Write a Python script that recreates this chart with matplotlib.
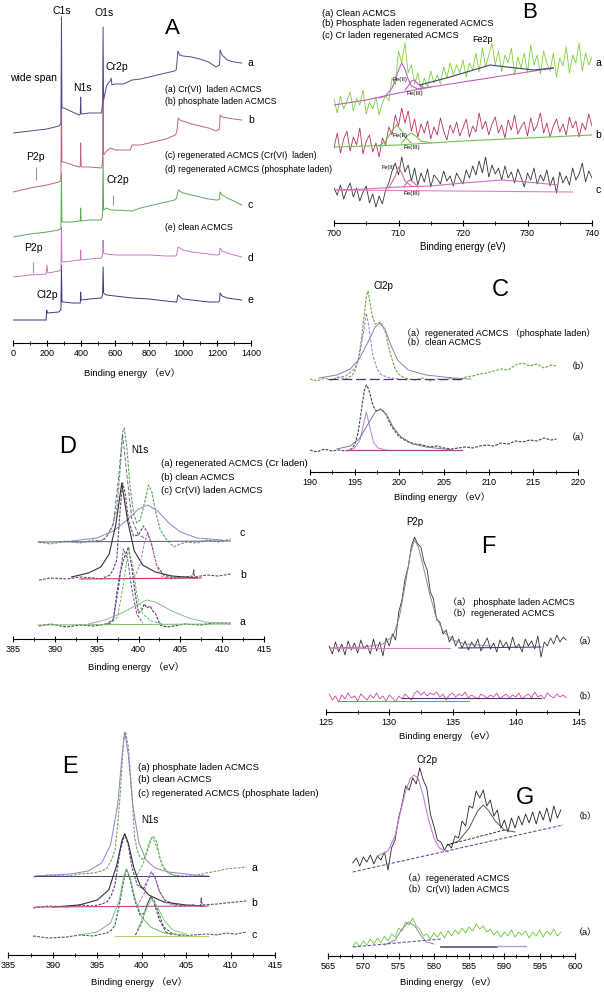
import numpy as np
import matplotlib
matplotlib.use('Agg')
import matplotlib.pyplot as plt
from matplotlib.ticker import MultipleLocator

plt.rcParams['font.family'] = ['Liberation Sans', 'Noto Sans CJK SC', 'DejaVu Sans']

# ---------------- DATA ----------------
# Panel A: wide-span survey spectra (binding energy eV, intensity a.u., stacked)
A_a_E = [0,100,200,270,280,282,285,288,300,350,390,396,398,401,450,520,527,530,533,550,565,572,577,582,600,650,700,750,800,850,900,950,960,965,970,980,1000,1050,1100,1150,1195,1205,1215,1218,1230,1260,1300,1345]
A_a_I = [210,212,214,217,219,219,326,235,235,231,228,229,246,229,230,230,240,316,243,257,261,262,265,258,259,259,263,264,266,268,270,272,273,282,292,288,287,286,284,281,276,277,278,293,288,283,281,280]
A_b_E = [0,100,200,270,280,282,285,288,300,350,390,396,398,401,450,520,527,530,533,550,575,600,690,700,750,800,850,900,955,963,968,972,990,1000,1050,1100,1150,1195,1205,1215,1218,1230,1260,1300,1345]
A_b_I = [151,155,158,161,162,162,248,181,181,178,176,177,200,176,176,175,180,243,188,192,195,193,193,198,198,200,202,204,208,211,218,225,222,222,219,217,215,212,213,214,228,226,225,224,223]
A_c_E = [0,100,200,270,280,282,285,288,300,350,390,396,398,401,450,520,527,530,533,550,575,600,700,750,800,850,900,950,963,968,975,990,1000,1050,1100,1150,1195,1205,1215,1218,1230,1260,1300,1345]
A_c_I = [106,109,111,113,114,114,170,121,121,121,122,122,135,122,123,123,128,186,133,135,133,133,132,135,137,139,141,143,145,150,153,151,150,148,146,144,143,143,144,151,148,145,142,138]
A_d_E = [0,100,195,200,205,270,280,282,285,288,300,350,390,396,398,401,450,520,527,530,533,550,600,700,800,900,955,963,968,972,990,1000,1050,1100,1150,1195,1205,1215,1218,1230,1260,1300,1345]
A_d_I = [66,68,69,78,70,72,73,73,116,81,81,82,83,83,93,83,84,85,88,103,90,89,88,88,88,87,87,88,93,96,94,93,91,90,89,88,88,89,95,92,90,88,86]
A_e_E = [0,130,195,198,202,270,280,282,285,288,300,350,390,396,398,401,450,520,527,530,533,550,600,700,800,900,955,963,968,972,990,1000,1050,1100,1150,1195,1205,1215,1218,1230,1260,1300,1345]
A_e_I = [23,23,23,33,30,31,33,33,78,41,41,40,40,40,51,43,44,45,48,76,50,48,47,45,44,42,41,41,46,48,45,44,43,42,41,41,41,42,50,47,45,44,43]
A_MARK_E = [135, 590, 118]
A_MARK_LO = [163, 138, 70]
A_MARK_HI = [176, 148, 81]

# Panel B: Fe2p
B_E = np.arange(700, 740.01, 0.5)
B_a = [124,110,127,114,122,131,112,125,118,133,
       109,121,114,126,108,120,128,122,145,138,
       172,160,180,150,158,139,150,132,145,136,
       152,140,148,139,156,145,160,148,158,150,
       163,146,160,153,170,151,175,156,168,180,
       158,172,151,168,160,175,148,166,155,170,
       150,178,158,168,149,172,160,152,170,146,
       165,157,176,150,168,160,180,152,170,158,
       166]
B_b = [75,90,70,84,92,72,86,78,95,69,
       82,88,71,80,66,85,78,96,88,108,
       97,115,100,112,92,104,86,99,90,102,
       84,96,88,105,92,83,98,90,101,87,
       95,104,86,97,91,110,94,102,88,99,
       106,90,98,85,103,93,108,89,96,101,
       87,105,92,98,110,90,100,86,97,104,
       91,99,88,106,95,102,86,100,93,109,
       97]
B_c = [35,28,38,24,33,40,26,35,22,31,
       37,20,29,16,27,19,33,40,52,60,
       48,66,51,58,42,55,38,50,41,54,
       36,48,44,39,52,42,47,37,50,44,
       39,53,45,57,48,62,50,66,46,58,
       49,55,43,57,45,51,40,54,46,36,
       50,43,55,39,48,42,53,37,46,30,
       51,40,47,38,55,43,49,60,41,52,
       45]
B_A_BG_E = [700,705,710,715,720,725,730,734]
B_A_BG_I = [118,123,130,136,141,146,151,155]
B_A_FE2_E = [707,708,709,709.5,710,710.5,711,711.5,712,713,714]
B_A_FE2_I = [125,127,135,143,153,160,154,144,137,134,135]
B_A_FE3_E = [711,711.5,712,712.5,713,714,715]
B_A_FE3_I = [133,137,142,143,139,135,136]
B_A_SAT_E = [713.3,718,724.2,726.8,731,734]
B_A_SAT_I = [138,146,158,156,153,155]
B_B_BG_E = [700,710,720,730,740]
B_B_BG_I = [76,78,82,85,88]
B_B_FE2_E = [707,708,709,709.7,710.5,711,712]
B_B_FE2_I = [77,82,92,98,92,86,80]
B_B_FE3_E = [710.5,711.5,712,712.5,713.5,715]
B_B_FE3_I = [80,88,90,88,82,80]
B_C_BG_E = [700,737]
B_C_BG_I = [33,31]
B_C_ENV_E = [700,705,710,715,720,726,730,734.7]
B_C_ENV_I = [33,34,36,37,40,43,41,38]
B_C_FE2_E = [708.5,709.5,710,710.5,711,712]
B_C_FE2_I = [35,47,56,50,42,37]
B_C_FE3_E = [710.8,711.5,711.8,712.3,713]
B_C_FE3_I = [36,42,43,41,36]

# Panel C: Cl2p
C_E = [190.0,190.8,191.6,192.4,193.2,194.0,194.6,195.0,195.4,195.8,196.1,196.3,196.5,196.7,197.0,197.3,197.6,197.9,198.2,198.5,198.8,199.1,199.5,199.9,200.4,201.0,201.8,202.6,203.4,204.2,205.0,205.8,206.6,207.4,208.2,209.0,209.8,210.6,211.4,212.2,213.0,213.8,214.6,215.4,216.2,217.0,217.6]
C_b = [93,91,94,92,95,93,96,100,112,135,160,176,181,170,155,148,149,150,145,138,125,115,104,98,95,93,92,94,91,93,92,94,92,95,96,98,99,101,103,102,107,109,106,108,104,107,106]
C_a = [22,20,23,21,22,21,23,27,40,65,82,87,84,79,68,62,61,63,61,58,52,46,41,36,33,30,28,27,25,26,24,23,24,25,24,26,27,26,29,28,31,30,32,31,34,32,33]
C_B_P1_E = [193,194,195,195.5,196,196.3,196.6,197,197.5,198,199,200]
C_B_P1_I = [94,96,103,115,140,159,145,118,103,97,94,93]
C_B_P2_E = [191,193,194.5,195.5,196.5,197.3,197.8,198.4,199,199.8,201,203,206,208]
C_B_P2_I = [94,97,103,113,130,145,149,143,128,112,102,97,94,93]
C_A_P1_E = [194.5,195,195.6,196,196.3,196.7,197.1,197.6,198.5]
C_A_P1_I = [22,24,32,48,60,45,30,24,22]
C_A_P2_E = [193,194.5,195.5,196.5,197.3,197.9,198.6,199.3,200.2,201.5,203,206]
C_A_P2_I = [23,26,33,48,60,63,57,45,35,28,25,22]

# Panel D: N1s
D_c_E = [388.1,389.5,391.4,393,394.6,395.5,396.2,396.8,397.4,397.8,398.1,398.3,398.6,399.0,399.4,399.8,400.2,400.8,401.2,401.6,402.0,402.6,403.4,404.2,405.0,405.8,407,408.2,409.5,411.0]
D_c_I = [97,95,98,96,99,98,102,111,129,169,207,211,192,152,126,116,119,139,154,147,129,109,99,92,95,97,96,99,97,100]
D_b_E = [388.1,389.5,391.4,393,394.6,395.5,396.6,397.0,397.4,397.8,398.1,398.4,398.8,399.4,400.0,400.6,401.1,401.6,402.2,403.0,404.2,405.4,406.5,406.6,406.7,408.2,409.5,411.0]
D_b_I = [59,61,60,62,61,60,64,70,79,129,156,146,119,103,104,113,106,93,73,64,61,62,63,69,62,64,63,65]
D_a_E = [388.1,389.5,391.4,393,394.6,395.5,396.6,397.0,397.4,397.8,398.2,398.8,399.2,399.6,400.0,400.4,400.7,401.0,401.4,401.7,402.0,402.6,403.4,404.2,405.5,407.4,409,411.0]
D_a_I = [13,15,12,14,13,14,16,19,46,66,79,92,72,46,26,29,35,31,33,28,26,14,12,13,15,14,16,16]
D_C_F1_E = [395,396,397,397.6,398.1,398.6,399.2,400,401]
D_C_F1_I = [97,100,115,160,205,165,120,104,100]
D_C_F2_E = [392,395,397,398.5,400,401.1,402.3,403.5,405,407,410]
D_C_F2_I = [98,101,108,118,130,134,128,117,107,101,99]
D_B_F1_E = [392,394,395.5,396.5,397.3,398,398.7,399.5,400.5,402,404,407]
D_B_F1_I = [62,66,72,85,115,156,118,88,74,67,63,61]
D_B_F2_E = [399.5,400.2,400.7,401.1,401.6,402.1,402.7,404]
D_B_F2_I = [61,75,96,106,95,75,63,60]
D_A_F1_E = [396,397,397.6,398.2,398.7,399.2,399.8,400.5]
D_A_F1_I = [14,20,50,90,80,50,25,16]
D_A_F2_E = [396.5,397.5,398.2,398.8,399.3,399.8,400.5,401.5,403]
D_A_F2_I = [14,22,55,90,75,45,25,18,15]
D_A_F3_E = [394,396,398,400,401,402,404,406,408,411]
D_A_F3_I = [15,19,26,35,39,37,28,21,17,15]

# Panel E: N1s
E_a_E = [387.8,389.5,391.6,393,394.6,395.5,396.1,396.6,397.0,397.3,397.6,398.0,398.2,398.5,398.9,399.2,399.5,399.8,400.2,400.7,401.1,401.4,401.7,402.0,402.6,403.5,404.6,405.8,407.3,408.5,409.5,410.6,411.8]
E_a_I = [78,80,79,81,82,84,87,95,105,130,162,218,223,208,162,118,105,98,95,105,117,118,113,98,85,80,79,79,82,84,86,87,88]
E_b_E = [387.8,389.5,391.6,393,394.6,395.5,396.1,396.6,397.0,397.3,397.6,398.1,398.5,398.9,399.5,400.2,400.7,401.1,401.5,402.0,402.6,403.5,404.6,405.8,406.6,406.7,406.8,408.5,409.5,410.6,411.8]
E_b_I = [47,49,48,50,49,51,53,60,70,88,105,121,110,88,70,66,75,83,78,64,55,51,49,50,49,57,50,51,52,53,54]
E_c_E = [387.8,389.5,391.6,393,394.6,395.5,396.1,396.6,397.0,397.6,398.0,398.3,398.7,399.2,399.8,400.3,400.7,401.0,401.4,401.9,402.5,403.5,404.6,405.8,407.3,408.5,409.5,410.6,411.8]
E_c_I = [19,17,18,20,19,21,22,25,30,55,75,86,75,55,40,42,52,58,55,42,28,21,19,20,21,20,22,21,23]
E_A_F1_E = [388,392,394,395.5,396.5,397.3,397.8,398.1,398.5,399,399.7,400.5,401.5,403,406,407.5]
E_A_F1_I = [79,81,84,92,110,150,200,223,200,150,112,95,87,83,80,79]
E_A_F2_E = [399.5,400.2,400.8,401.2,401.7,402.3,403,404]
E_A_F2_I = [80,92,112,118,108,90,82,79]
E_B_F1_E = [390,393,395,396.3,397.2,397.8,398.1,398.5,399.1,399.8,400.8,402.5,405,407]
E_B_F1_I = [48,50,55,65,90,115,121,112,88,70,60,53,50,49]
E_B_F2_E = [399.5,400.3,400.8,401.1,401.5,402,402.8,404]
E_B_F2_I = [49,62,78,83,77,63,52,49]
E_C_F1_E = [393,395,396.5,397.5,398,398.3,398.7,399.3,400,401,402.5,405]
E_C_F1_I = [20,23,32,55,80,86,78,55,38,28,22,20]
E_C_F2_E = [399.3,400,400.6,401,401.4,402,402.7,403.5]
E_C_F2_I = [20,32,50,58,52,35,23,20]
E_C_F3_E = [399.5,400.5,401.1,401.8,402.5,403.5,405]
E_C_F3_I = [25,45,56,48,35,25,21]

# Panel F: P2p
F_E = np.arange(125.25, 144.01, 0.25)
F_a = [66,58,70,60,68,57,71,62,
       69,59,72,63,67,58,73,61,
       70,56,74,66,78,72,100,112,
       133,145,166,175,168,165,150,142,
       120,113,92,90,78,82,70,76,
       66,73,64,71,62,70,65,73,
       61,68,74,63,69,60,72,65,
       70,62,75,64,68,60,73,66,
       71,63,76,55,70,66,74,68,
       77,70,75,72]
F_b = [18,12,16,10,17,13,19,14,
       16,11,18,15,12,17,14,19,
       13,16,11,17,14,10,16,13,
       18,15,12,19,21,17,20,16,
       19,17,20,15,18,12,17,19,
       15,18,16,20,14,17,15,13,
       18,16,14,17,15,19,13,16,
       18,14,17,15,19,13,16,18,
       14,20,15,17,13,19,16,14,
       18,15,17,14]
F_A_FIT_E = [125.3,128,129.5,130.3,130.8,131.3,131.7,132,132.3,132.7,133.2,133.7,134.3,135,136,138]
F_A_FIT_I = [64,65,68,76,95,130,160,172,165,145,118,95,80,72,68,66]

# Panel G: Cr2p
G_E = np.arange(568.5, 598.01, 0.5)
G_b = [93,98,90,99,94,101,92,100,96,104,
       86,108,116,138,152,170,166,178,172,188,
       176,168,142,130,116,114,106,112,108,120,
       118,135,130,150,148,165,158,166,150,156,
       140,146,128,136,124,138,128,140,131,142,
       133,144,132,145,136,148,134,150,138,146]
G_a = [10,14,9,15,11,17,12,18,13,20,
       15,22,19,28,25,34,31,38,30,27,
       20,22,17,23,19,24,18,25,20,26,
       22,28,23,29,25,32,27,30,24,27,
       21,25,19,24,20,26,19,24,21,25,
       18,24,20,26,19,25,21,27,20,24]
G_B_F1_E = [572,573.5,574.5,575.3,576,576.7,577.2,577.8,578.5,579.2,580,580.8,582]
G_B_F1_I = [100,105,120,145,165,178,181,177,160,138,118,108,104]
G_B_F2_E = [582,583.5,585,586.2,587,587.8,588.7,590,591.5]
G_B_F2_I = [111,115,128,145,151,145,135,126,124]
G_A_F1_E = [573,574.5,575.5,576.4,577.3,578.2,579,580]
G_A_F1_I = [11,16,27,34,30,20,14,12]

# ---------------- FIGURE ----------------
W, H = 604, 992
fig = plt.figure(figsize=(W/100, H/100), dpi=100)
fig.patch.set_facecolor('white')

def make_ax(x0, x1, axis_y, top, xlim, major, minor):
    ax = fig.add_axes([x0/W, 1 - axis_y/H, (x1-x0)/W, (axis_y-top)/H])
    ax.set_xlim(*xlim)
    ax.set_ylim(0, axis_y - top)
    for s in ['left', 'right', 'top']:
        ax.spines[s].set_visible(False)
    ax.spines['bottom'].set_linewidth(0.8)
    ax.set_yticks([])
    ax.xaxis.set_major_locator(MultipleLocator(major))
    ax.xaxis.set_minor_locator(MultipleLocator(minor))
    ax.tick_params(axis='x', which='major', direction='inout', length=5, width=0.8,
                   labelsize=6.5, pad=1.5)
    ax.tick_params(axis='x', which='minor', direction='inout', length=3, width=0.6)
    ax.patch.set_alpha(0)
    return ax

def T(x, y, s, fs=6.5, ha='left', **kw):
    fig.text(x/W, 1 - y/H, s, fontsize=fs, ha=ha, va='center', **kw)

DASH = (0, (2.5, 1.2))

# ---- A ----
axA = make_ax(13, 251, 343, 0, (0, 1400), 200, 100)
for E, I, c in [(A_e_E, A_e_I, '#3c3c7a'), (A_d_E, A_d_I, '#c878c8'),
                (A_c_E, A_c_I, '#5aaa5a'), (A_b_E, A_b_I, '#c0608c'),
                (A_a_E, A_a_I, '#4e4e86')]:
    axA.plot(E, I, color=c, lw=0.7)
axA.vlines(A_MARK_E, A_MARK_LO, A_MARK_HI, color='#999999', lw=0.8)
T(62, 11, 'C1s', 7.5, 'center'); T(104, 13, 'O1s', 7.5, 'center')
T(172, 28, 'A', 16, 'center')
T(10, 78, 'wide span', 7.5); T(82, 88, 'N1s', 7.5, 'center'); T(117, 67, 'Cr2p', 7.5, 'center')
T(165, 89, '(a) Cr(VI)  laden ACMCS', 6.3)
T(165, 101, '(b) phosphate laden ACMCS', 6.3)
T(165, 156, '(c) regenerated ACMCS (Cr(VI)  laden)', 6.3)
T(165, 170, '(d) regenerated ACMCS (phosphate laden)', 6.3)
T(165, 228, '(e) clean ACMCS', 6.3)
T(35, 157, 'P2p', 7.5, 'center'); T(118, 180, 'Cr2p', 7.5, 'center')
T(33, 248, 'P2p', 7.5, 'center'); T(47, 295, 'Cl2p', 7.5, 'center')
for lab, yy in zip('abcde', [63, 120, 205, 258, 300]):
    T(248, yy, lab, 7.5)
T(132, 373, 'Binding energy （eV）', 6.8, 'center')

# ---- B ----
axB = make_ax(334, 592, 223, 0, (700, 740), 10, 5)
axB.plot(B_E, B_a, color='#7ad23a', lw=0.6)
axB.plot(B_E, B_b, color='#b8305f', lw=0.6)
axB.plot(B_E, B_c, color='#333333', lw=0.6)
axB.plot(B_A_BG_E, B_A_BG_I, color='#c060c0', lw=0.8)
axB.plot(B_A_FE2_E, B_A_FE2_I, color='#c060c0', lw=0.8)
axB.plot(B_A_FE3_E, B_A_FE3_I, color='#c060c0', lw=0.8)
axB.plot(B_A_SAT_E, B_A_SAT_I, color='#404070', lw=0.8)
axB.plot(B_B_BG_E, B_B_BG_I, color='#70c050', lw=0.8)
axB.plot(B_B_FE2_E, B_B_FE2_I, color='#70c050', lw=0.8)
axB.plot(B_B_FE3_E, B_B_FE3_I, color='#70c050', lw=0.8)
axB.plot(B_C_BG_E, B_C_BG_I, color='#e080c8', lw=0.8)
axB.plot(B_C_ENV_E, B_C_ENV_I, color='#d070b0', lw=0.8)
axB.plot(B_C_FE2_E, B_C_FE2_I, color='#d070b0', lw=0.8)
axB.plot(B_C_FE3_E, B_C_FE3_I, color='#d070b0', lw=0.8)
T(322, 13, '(a) Clean ACMCS', 6.7); T(322, 24, '(b) Phosphate laden regenerated ACMCS', 6.7)
T(322, 35, '(c) Cr laden regenerated ACMCS', 6.7)
T(530, 13, 'B', 16, 'center'); T(472, 40, 'Fe2p', 6.5)
T(400, 80, 'Fe(II)', 4.5, 'center'); T(415, 93, 'Fe(III)', 4.5, 'center')
T(400, 136, 'Fe(II)', 4.5, 'center'); T(412, 147, 'Fe(III)', 4.5, 'center')
T(388, 167, 'Fe(II)', 4.0, 'center'); T(412, 193, 'Fe(III)', 4.5, 'center')
T(595, 63, 'a', 7.5); T(595, 135, 'b', 7.5); T(595, 190, 'c', 7.5)
T(463, 247, 'Binding energy (eV)', 7, 'center')

# ---- C ----
axC = make_ax(310, 578, 472, 250, (190, 220), 5, 2.5)
axC.plot(C_E, C_b, color='#66b040', lw=0.8, ls=DASH)
axC.plot(C_E, C_a, color='#444444', lw=0.8, ls=DASH)
axC.plot(C_B_P1_E, C_B_P1_I, color='#9a70c8', lw=0.7, ls=(0, (3, 1.5)))
axC.plot(C_B_P2_E, C_B_P2_I, color='#8a80b0', lw=0.7)
axC.plot([192, 207], [93, 93], color='#503070', lw=0.9, ls=(0, (8, 3)))
axC.plot(C_A_P1_E, C_A_P1_I, color='#c080d8', lw=0.7)
axC.plot(C_A_P2_E, C_A_P2_I, color='#777799', lw=0.7)
axC.plot([194, 207], [22, 22], color='#b04090', lw=0.9)
T(383, 286, 'Cl2p', 7, 'center'); T(500, 290, 'C', 17, 'center')
T(402, 333, '（a）regenerated ACMCS （phosphate laden）', 6.5)
T(402, 343, '（b）clean ACMCS', 6.5)
T(567, 367, '（b）', 6.5); T(567, 438, '（a）', 6.5)
T(442, 497, 'Binding energy （eV）', 6.8, 'center')

# ---- D ----
axD = make_ax(13, 264, 639, 420, (385, 415), 5, 2.5)
axD.plot(D_c_E, D_c_I, color='#55aa55', lw=0.8, ls=DASH)
axD.plot(D_C_F1_E, D_C_F1_I, color='#8060a0', lw=0.7, ls=(0, (4, 2)))
axD.plot(D_C_F2_E, D_C_F2_I, color='#9a80c0', lw=0.7)
axD.plot([388, 411], [97, 98], color='#555577', lw=0.7)
axD.plot(D_b_E, D_b_I, color='#664477', lw=0.8, ls=DASH)
axD.plot(D_B_F1_E, D_B_F1_I, color='#333333', lw=0.8)
axD.plot(D_B_F2_E, D_B_F2_I, color='#c070c0', lw=0.7, ls=(0, (3, 1.5)))
axD.plot([393, 407.5], [60, 61], color='#cc3355', lw=0.8)
axD.plot(D_a_E, D_a_I, color='#553366', lw=0.8, ls=DASH)
axD.plot(D_A_F1_E, D_A_F1_I, color='#7050a0', lw=0.7, ls=(0, (3, 1.5)))
axD.plot(D_A_F2_E, D_A_F2_I, color='#66bb66', lw=0.7, ls=(0, (3, 1.5)))
axD.plot(D_A_F3_E, D_A_F3_I, color='#88bb88', lw=0.7)
axD.plot([388, 411], [14, 15], color='#77bb66', lw=0.7)
T(68, 447, 'D', 17, 'center'); T(140, 450, 'N1s', 7, 'center')
T(161, 464, '(a) regenerated ACMCS (Cr laden)', 6.8)
T(161, 477, '(b) clean ACMCS', 6.8)
T(161, 491, '(c) Cr(VI) laden ACMCS', 6.8)
T(240, 533, 'c', 7.5); T(240, 575, 'b', 7.5); T(240, 622, 'a', 7.5)
T(136, 667, 'Binding energy （eV）', 6.8, 'center')

# ---- E ----
axE = make_ax(8.3, 275, 955, 700, (385, 415), 5, 2.5)
axE.plot(E_a_E, E_a_I, color='#66aa66', lw=0.8, ls=DASH)
axE.plot(E_A_F1_E, E_A_F1_I, color='#9a7ac8', lw=0.7)
axE.plot(E_A_F2_E, E_A_F2_I, color='#66bb55', lw=0.7, ls=(0, (3, 1.5)))
axE.plot([388, 407.6], [79, 79], color='#444466', lw=0.7)
axE.plot(E_b_E, E_b_I, color='#664488', lw=0.8, ls=DASH)
axE.plot(E_B_F1_E, E_B_F1_I, color='#333333', lw=0.8)
axE.plot(E_B_F2_E, E_B_F2_I, color='#c070c8', lw=0.7, ls=(0, (3, 1.5)))
axE.plot([388, 407.5], [48, 49], color='#cc4488', lw=0.8)
axE.plot(E_c_E, E_c_I, color='#555577', lw=0.8, ls=DASH)
axE.plot(E_C_F1_E, E_C_F1_I, color='#77bb77', lw=0.7)
axE.plot(E_C_F2_E, E_C_F2_I, color='#444444', lw=0.7, ls=(0, (3, 1.5)))
axE.plot(E_C_F3_E, E_C_F3_I, color='#88cc88', lw=0.7)
axE.plot([397, 407.5], [19, 19], color='#bbcc66', lw=0.8)
T(70, 767, 'E', 17, 'center')
T(138, 767, '(a) phosphate laden ACMCS', 6.8)
T(138, 780, '(b) clean ACMCS', 6.8)
T(138, 793, '(c) regenerated ACMCS (phosphate laden)', 6.8)
T(150, 820, 'N1s', 7, 'center')
T(251, 868, 'a', 7.5); T(251, 903, 'b', 7.5); T(251, 935, 'c', 7.5)
T(139, 982, 'Binding energy （eV）', 6.8, 'center')

# ---- F ----
axF = make_ax(326, 579, 712, 500, (125, 145), 5, 2.5)
axF.plot(F_E, F_a, color='#333333', lw=0.6)
axF.plot(F_A_FIT_E, F_A_FIT_I, color='#888899', lw=0.7)
axF.plot([125.3, 134.8], [64, 64], color='#d080c8', lw=0.8)
axF.plot([135.5, 142], [64, 65], color='#603080', lw=0.8)
axF.plot(F_E, F_b, color='#cc44aa', lw=0.6)
axF.plot([126, 136.3], [11, 11], color='#66aa66', lw=0.8)
axF.plot([131, 142], [14, 14], color='#503070', lw=0.8)
T(415, 522, 'P2p', 7, 'center'); T(488, 547, 'F', 17, 'center')
T(448, 602, '（a） phosphate laden ACMCS', 6.5)
T(448, 613, '（b）regenerated ACMCS', 6.5)
T(574, 642, '（a）', 6.5); T(574, 697, '（b）', 6.5)
T(447, 736, 'Binding energy （eV）', 6.8, 'center')

# ---- G ----
axG = make_ax(328, 575, 956, 740, (565, 600), 5, 5/3)
axG.plot(G_E, G_b, color='#222222', lw=0.6)
axG.plot(G_B_F1_E, G_B_F1_I, color='#c080d0', lw=0.8)
axG.plot(G_B_F2_E, G_B_F2_I, color='#555566', lw=0.7)
axG.plot([568.5, 598.3], [84, 131], color='#7050a0', lw=0.8, ls=(0, (3, 1.5)))
axG.plot([581.8, 590], [111, 126], color='#333344', lw=0.7, ls=(0, (3, 1.5)))
axG.plot(G_E, G_a, color='#66cc33', lw=0.6)
axG.plot(G_A_F1_E, G_A_F1_I, color='#888899', lw=0.7)
axG.plot([568.5, 581], [9, 17], color='#7050a0', lw=0.8, ls=(0, (3, 1.5)))
axG.plot([581, 589], [9, 9], color='#605080', lw=1.2)
axG.plot([589, 593], [10, 10], color='#b0a0d0', lw=1.0)
T(427, 760, 'Cr2p', 7, 'center'); T(525, 798, 'G', 17, 'center')
T(574, 817, '（b）', 6.5)
T(403, 878, '（a）regenerated ACMCS', 6.5)
T(403, 889, '（b）Cr(VI) laden ACMCS', 6.5)
T(574, 933, '（a）', 6.5)
T(448, 982, 'Binding energy （eV）', 6.8, 'center')

fig.savefig('out.png', dpi=100, facecolor='white')
